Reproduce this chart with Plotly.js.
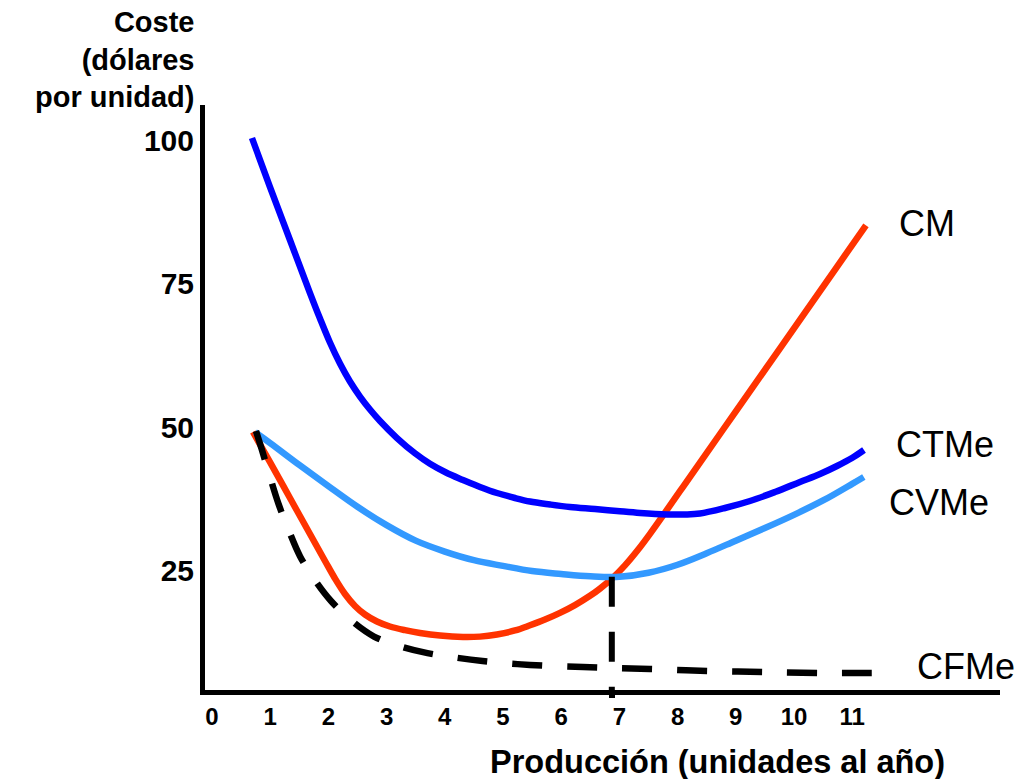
<!DOCTYPE html>
<html>
<head>
<meta charset="utf-8">
<script src="https://cdn.plot.ly/plotly-3.0.1.min.js"></script>
<style>html,body{margin:0;padding:0;background:#fff;}#chart{width:1027px;height:779px;}</style>
</head>
<body>
<div id="chart"></div>
<script>
// Output axis ticks
const xTicks = [0, 1, 2, 3, 4, 5, 6, 7, 8, 9, 10, 11];
const yTicks = [25, 50, 75, 100];

// CTMe (coste total medio)
const ctmeX = [0.687, 0.997, 1.340, 1.684, 1.856, 2.027, 2.199, 2.371, 2.543, 2.715, 2.887, 3.179, 3.488, 3.746, 4.021, 4.313, 4.605, 4.897, 5.206, 5.464, 5.808, 6.151, 6.581, 6.959, 7.354, 7.818, 8.127, 8.385, 8.814, 9.244, 9.674, 10.103, 10.447, 10.739, 10.997, 11.203];
const ctmeY = [100.35, 91.81, 82.58, 73.34, 68.90, 64.72, 61.06, 57.93, 55.31, 53.05, 51.05, 48.08, 45.42, 43.59, 42.07, 40.77, 39.55, 38.50, 37.63, 37.02, 36.50, 36.06, 35.71, 35.37, 35.02, 34.76, 34.76, 34.93, 35.89, 37.11, 38.68, 40.42, 41.81, 43.21, 44.60, 45.99];

// CVMe (coste variable medio)
const cvmeX = [0.74, 1.0, 1.5, 2.0, 2.5, 3.0, 3.5, 4.0, 4.5, 5.0, 5.5, 6.0, 6.5, 7.0, 7.5, 8.0, 8.5, 9.0, 9.5, 10.0, 10.5, 11.0, 11.2];
const cvmeY = [49.1, 47.2, 43.4, 39.7, 36.1, 32.9, 30.2, 28.3, 26.8, 25.8, 24.9, 24.4, 24.0, 23.9, 24.6, 26.0, 28.0, 30.2, 32.4, 34.7, 37.2, 40.1, 41.3];

// CM (coste marginal)
const cmX = [0.704, 0.997, 1.340, 1.684, 1.942, 2.113, 2.285, 2.457, 2.629, 2.835, 3.058, 3.316, 3.574, 3.918, 4.313, 4.605, 4.897, 5.206, 5.464, 5.722, 5.979, 6.237, 6.495, 6.667, 6.890, 7.096, 7.320, 7.526, 7.749, 8.041, 8.385, 8.986, 9.588, 10.189, 10.739, 11.237];
const cmY = [49.13, 43.90, 37.63, 31.36, 26.66, 23.61, 20.91, 18.82, 17.33, 16.11, 15.24, 14.60, 14.11, 13.66, 13.41, 13.48, 13.85, 14.55, 15.45, 16.45, 17.61, 18.97, 20.59, 21.85, 23.76, 25.89, 28.61, 31.39, 34.58, 38.82, 43.80, 52.51, 61.22, 69.93, 77.91, 85.14];

// CFMe (coste fijo medio)
const cfmeX = [0.756, 0.851, 0.997, 1.143, 1.323, 1.512, 1.770, 2.053, 2.405, 2.784, 3.230, 3.703, 4.175, 4.648, 5.464, 6.375, 6.873, 7.526, 8.505, 9.450, 10.412, 11.478];
const cfmeY = [49.3, 46.25, 41.3, 36.6, 31.9, 27.5, 23.3, 19.6, 16.2, 13.5, 11.8, 10.6, 9.84, 9.23, 8.54, 8.19, 8.01, 7.84, 7.49, 7.32, 7.14, 7.14];

// Vertical dashed guide at the CVMe minimum
const guideX = [6.87, 6.87];
const guideY = [23.9, 2.0];

// Curve labels
const labelText = ["CM", "CTMe", "CVMe", "CFMe"];
const labelX = [11.77, 11.72, 11.60, 12.08];
const labelY = [85.4, 47.0, 36.9, 8.3];

const xRange = [-0.12, 13.54];
const yRange = [4.18, 106.1];

const FONT = "Liberation Sans, Arial, Helvetica, sans-serif";

const traces = [
  {x: cmX, y: cmY, mode: "lines", line: {color: "#FF3300", width: 6.5, shape: "spline", smoothing: 1}, hoverinfo: "skip"},
  {x: ctmeX, y: ctmeY, mode: "lines", line: {color: "#0000FF", width: 6.5, shape: "spline", smoothing: 1}, hoverinfo: "skip"},
  {x: cvmeX, y: cvmeY, mode: "lines", line: {color: "#3399FF", width: 6.5, shape: "spline", smoothing: 1}, hoverinfo: "skip"},
  {x: cfmeX, y: cfmeY, mode: "lines", line: {color: "#000000", width: 6.5, shape: "spline", smoothing: 1, dash: "30px,25px"}, hoverinfo: "skip"},
  {x: guideX, y: guideY, xaxis: "x2", mode: "lines", line: {color: "#000000", width: 6, dash: "30px,25px"}, hoverinfo: "skip"}
];

const annotations = labelText.map((t, i) => ({
  text: t, x: labelX[i], y: labelY[i], xref: "x", yref: "y",
  xanchor: "left", yanchor: "middle", showarrow: false,
  font: {family: FONT, size: 36, color: "#000"}
}));

annotations.push({
  text: "Coste<br>(dólares<br>por unidad)", xref: "paper", yref: "paper",
  x: -0.011, y: 1.172, xanchor: "right", yanchor: "top", align: "right", showarrow: false,
  font: {family: FONT, size: 29, weight: "bold", color: "#000"}
});
annotations.push({
  text: "Producción (unidades al año)", xref: "paper", yref: "paper",
  x: 0.645, y: -0.123, xanchor: "center", yanchor: "middle", showarrow: false,
  font: {family: FONT, size: 32.5, weight: "bold", color: "#000"}
});

const layout = {
  width: 1027, height: 779,
  margin: {l: 205, r: 27, t: 105, b: 89, pad: 0},
  paper_bgcolor: "#fff", plot_bgcolor: "#fff",
  showlegend: false,
  xaxis: {
    range: xRange, showgrid: false, zeroline: false,
    showline: true, linecolor: "#000", linewidth: 5,
    tickvals: xTicks, ticktext: xTicks.map(String), ticks: "",
    ticklabelstandoff: 1,
    tickfont: {family: FONT, size: 24, weight: "bold", color: "#000"}
  },
  xaxis2: {
    range: xRange, overlaying: "x", side: "bottom", showgrid: false, zeroline: false,
    showline: false, showticklabels: false, ticks: "outside", ticklen: 7, tickwidth: 6,
    tickcolor: "#000", tickvals: [guideX[0]]
  },
  yaxis: {
    range: yRange, showgrid: false, zeroline: false,
    showline: true, linecolor: "#000", linewidth: 5,
    tickvals: yTicks, ticktext: yTicks.map(String), ticks: "",
    tickfont: {family: FONT, size: 30, weight: "bold", color: "#000"}
  },
  annotations: annotations
};

Plotly.newPlot("chart", traces, layout, {staticPlot: true, displayModeBar: false});
</script>
</body>
</html>
